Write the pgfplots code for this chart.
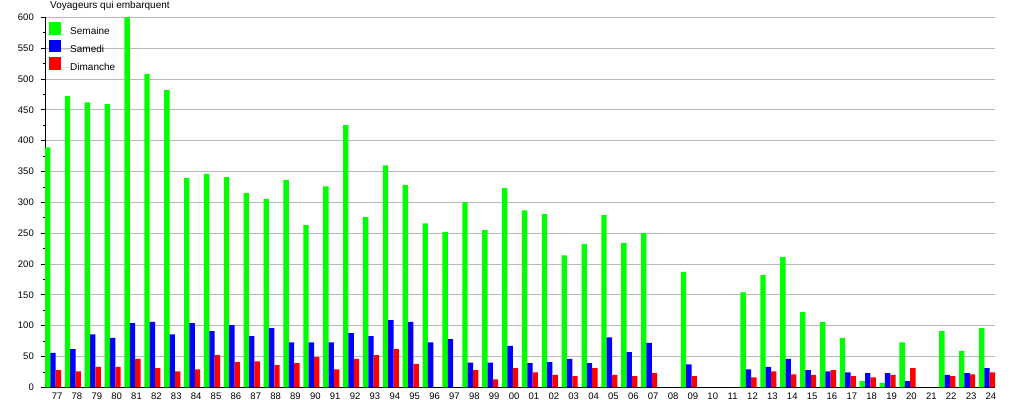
\documentclass[border=0pt]{standalone}
\usepackage{fontspec}
\setmainfont{Liberation Sans}
\usepackage{pgfplots}
\pgfplotsset{compat=1.18}
\usepackage{pgfplotstable}
\definecolor{cgreen}{RGB}{0,255,0}
\definecolor{cblue}{RGB}{0,0,255}
\definecolor{cred}{RGB}{255,0,0}
\definecolor{cgrid}{RGB}{185,185,185}
\pgfplotstableread{
x sem sam dim
0 389 56 28
1 472 62 26
2 462 86 33
3 459 80 33
4 600 104 46
5 508 106 31
6 482 86 26
7 339 104 29
8 346 91 52
9 341 101 41
10 315 83 42
11 305 96 36
12 336 73 39
13 263 73 49
14 326 73 29
15 425 88 46
16 276 83 52
17 360 109 62
18 328 106 38
19 266 73 nan
20 252 78 nan
21 300 40 28
22 255 40 13
23 323 67 31
24 287 39 24
25 281 41 20
26 214 46 18
27 232 39 31
28 279 81 20
29 234 57 18
30 250 72 23
31 nan nan nan
32 187 37 18
33 nan nan nan
34 nan nan nan
35 154 29 16
36 182 33 26
37 211 46 21
38 122 28 20
39 106 26 28
40 80 24 18
41 10 23 16
42 7 23 20
43 73 10 31
44 nan nan nan
45 91 20 18
46 59 23 21
47 96 31 24
}\data
\begin{document}
\begin{tikzpicture}
\begin{axis}[
  scale only axis, width=950pt, height=370pt,
  ybar=0pt, bar width=0.27,
  xmin=-0.405, xmax=47.405, ymin=0, ymax=600,
  axis x line*=bottom, axis y line*=left,
  axis line style={black, line width=0.8pt},
  xtick={0,...,47},
  xticklabels={77,78,79,80,81,82,83,84,85,86,87,88,89,90,91,92,93,94,95,96,97,98,99,00,01,02,03,04,05,06,07,08,09,10,11,12,13,14,15,16,17,18,19,20,21,22,23,24},
  x tick style={draw=none},
  xticklabel style={font=\fontsize{9.5}{11}\selectfont, xshift=4pt, inner sep=1pt},
  ytick={0,50,...,600},
  minor y tick num=1,
  tick align=outside,
  y tick style={black, line width=0.6pt},
  major tick length=4pt, minor tick length=2.3pt,
  yticklabel style={font=\fontsize{9.5}{11}\selectfont, inner sep=1pt, xshift=-6pt},
  /pgf/number format/assume math mode=true,
  ymajorgrids, grid style={cgrid, line width=0.8pt},
  legend style={draw=none, fill=none, at={(0,1)}, anchor=north west, xshift=3.3pt, yshift=-4.4pt,
    row sep=3.7pt, column sep=0pt, inner sep=0pt, font=\fontsize{10}{12}\selectfont,
    nodes={inner sep=0pt}},
  legend cell align=left,
]
\addplot[fill=cgreen, draw=none, bar shift=-0.27, legend image code/.code={\fill[cgreen] (0pt,-3pt) rectangle (12.7pt,9.7pt); \path (12.7pt,0pt) -- (21.7pt,0pt);}] table[x=x, y=sem] {\data};
\addplot[fill=cblue, draw=none, bar shift=0, legend image code/.code={\fill[cblue] (0pt,-3pt) rectangle (12.7pt,9.7pt); \path (12.7pt,0pt) -- (21.7pt,0pt);}] table[x=x, y=sam] {\data};
\addplot[fill=cred, draw=none, bar shift=0.27, legend image code/.code={\fill[cred] (0pt,-3pt) rectangle (12.7pt,9.7pt); \path (12.7pt,0pt) -- (21.7pt,0pt);}] table[x=x, y=dim] {\data};
\legend{Semaine, Samedi, Dimanche}
\coordinate (sw) at (rel axis cs:0,0);
\coordinate (ne) at (rel axis cs:1,1);
\end{axis}
\node[anchor=base west, inner sep=0pt, font=\fontsize{10}{12}\selectfont] at ([xshift=5pt, yshift=8.3pt]ne -| sw) {Voyageurs qui embarquent};
\pgfresetboundingbox
\path ([xshift=-45pt,yshift=-12.7pt]sw) rectangle ([xshift=20pt,yshift=17.3pt]ne);
\end{tikzpicture}
\end{document}
